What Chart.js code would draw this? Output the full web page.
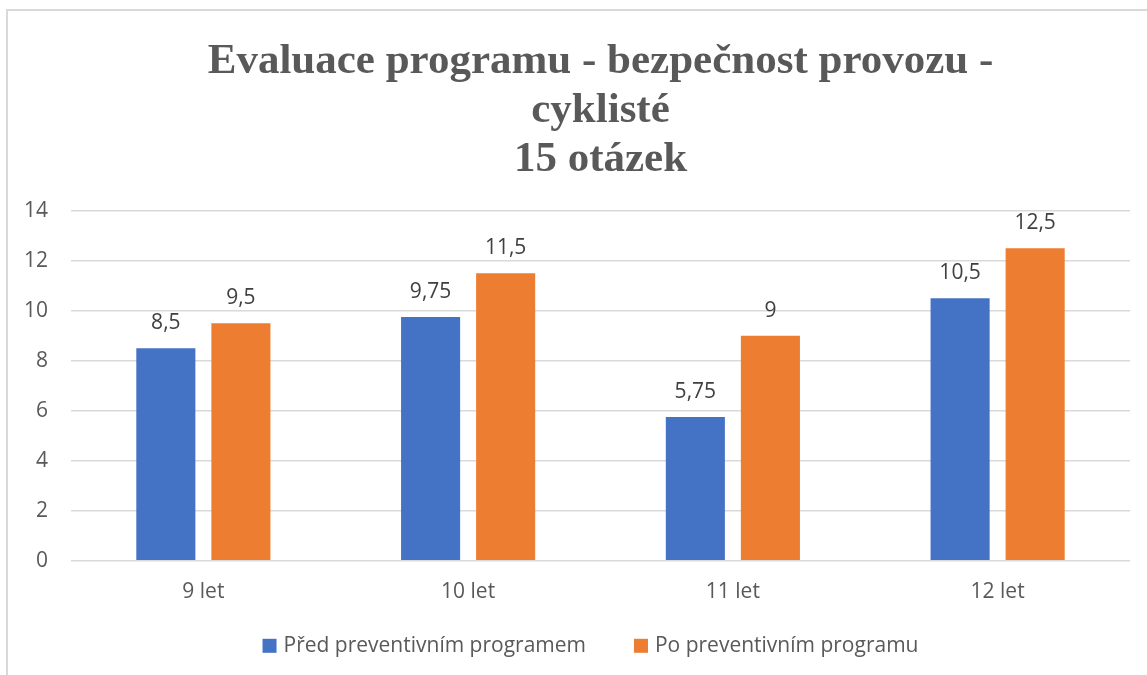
<!DOCTYPE html>
<html>
<head>
<meta charset="utf-8">
<script src="https://cdn.jsdelivr.net/npm/chart.js@4"></script>
<style>
  html,body{margin:0;padding:0;background:#fff;overflow:hidden;}
  #frame{position:absolute;left:6px;top:9px;width:1200px;height:720px;border:2px solid #d9d9d9;}
  #wrap{position:absolute;left:0;top:0;width:1147px;height:675px;}
</style>
</head>
<body>
<div id="frame"></div>
<div id="wrap"><canvas id="c" width="1147" height="675"></canvas></div>
<script>
// ---------- data ----------
const KATEGORIE = ["9 let","10 let","11 let","12 let"];
const PRED = [8.5, 9.75, 5.75, 10.5];
const PO = [9.5, 11.5, 9, 12.5];
const NAZVY = ["Před preventivním programem","Po preventivním programu"];
const BARVY = ["#4472c4","#ed7d31"];
const NADPIS = ["Evaluace programu - bezpečnost provozu -","cyklisté","15 otázek"];

const SANS = "'Open Sans', 'Noto Sans', sans-serif";
const SEDA = "#595959";

// popisky hodnot nad sloupci (čárka jako desetinný oddělovač)
const popisky = {
  id:"popisky",
  afterDatasetsDraw(chart){
    const ctx = chart.ctx;
    ctx.save();
    ctx.font = "21px " + SANS;
    ctx.fillStyle = "#404040";
    ctx.textAlign = "center";
    ctx.textBaseline = "middle";
    chart.data.datasets.forEach((ds,i)=>{
      chart.getDatasetMeta(i).data.forEach((bar,j)=>{
        ctx.fillText(String(ds.data[j]).replace(".",","), bar.x, bar.y - 25);
      });
    });
    ctx.restore();
  }
};

// legenda dole - vlastní kvůli větším mezerám mezi položkami
const legenda = {
  id:"legenda",
  afterDraw(chart){
    const ctx = chart.ctx, a = chart.chartArea;
    const box = 14, gapText = 7, gapItem = 48;
    ctx.save();
    ctx.font = "21px " + SANS;
    ctx.textBaseline = "middle";
    const items = chart.data.datasets.map(ds=>({t:ds.label,c:ds.backgroundColor,w:ctx.measureText(ds.label).width}));
    const total = items.reduce((s,it)=>s+box+gapText+it.w,0) + gapItem*(items.length-1);
    let x = (a.left+a.right)/2 - 10 - total/2;
    const y = a.bottom + 85;
    items.forEach(it=>{
      ctx.fillStyle = it.c;
      ctx.fillRect(x, y-7, box, box);
      x += box + gapText;
      ctx.fillStyle = SEDA;
      ctx.fillText(it.t, x, y);
      x += it.w + gapItem;
    });
    ctx.restore();
  }
};

new Chart(document.getElementById("c"),{
  type:"bar",
  data:{
    labels:KATEGORIE,
    datasets:[
      {label:NAZVY[0],data:PRED,backgroundColor:BARVY[0]},
      {label:NAZVY[1],data:PO,backgroundColor:BARVY[1]}
    ]
  },
  options:{
    responsive:false,
    animation:false,
    categoryPercentage:0.567,
    barPercentage:0.787,
    layout:{padding:{left:19,right:17,top:38,bottom:59}},
    plugins:{
      tooltip:{enabled:false},
      legend:{display:false},
      title:{
        display:true,
        fullSize:false,
        text:NADPIS,
        color:SEDA,
        font:{family:"'Liberation Serif', serif",size:43,weight:"bold",lineHeight:1.13},
        padding:{top:0,bottom:27}
      }
    },
    scales:{
      x:{
        grid:{display:false},
        border:{display:false},
        ticks:{color:SEDA,font:{family:SANS,size:21},padding:11}
      },
      y:{
        min:0,max:14,
        afterFit:s=>{s.width = 52;},
        ticks:{stepSize:2,color:SEDA,font:{family:SANS,size:21},padding:23},
        grid:{color:"#d9d9d9",lineWidth:1.5,drawTicks:false},
        border:{display:false}
      }
    }
  },
  plugins:[popisky,legenda]
});
</script>
</body>
</html>
